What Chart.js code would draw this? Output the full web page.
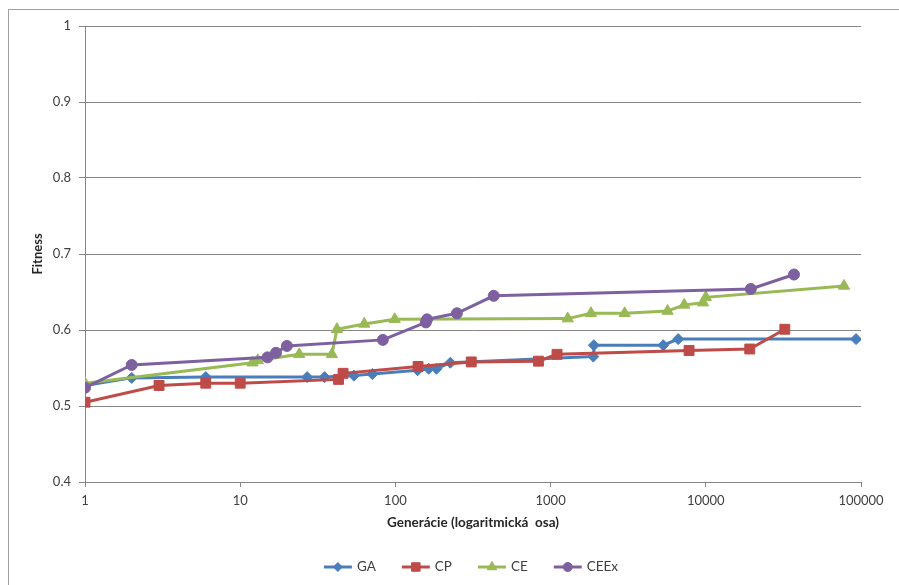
<!DOCTYPE html>
<html lang="sk">
<head>
    <meta charset="UTF-8">
    <title>Fitness</title>
    <script src="https://cdn.jsdelivr.net/npm/chart.js"></script>
    <style>
        body {
            margin: 0;
            background: #fff;
        }
        #wrap {
            width: 899px;
            height: 585px;
        }
    </style>
</head>
<body>
    <div id="wrap"><canvas id="fitChart" width="899" height="585"></canvas></div>

    <script>
        // hodnoty odčítané z grafu
        const gaX = [1, 2, 6, 27, 35, 54, 71, 139, 164, 184, 226, 1885, 1900, 5320, 6640, 92900];
        const gaY = [0.527, 0.537, 0.538, 0.538, 0.538, 0.540, 0.542, 0.547, 0.549, 0.549, 0.557, 0.565, 0.580, 0.580, 0.588, 0.588];

        const cpX = [1, 3, 6, 10, 43, 46, 140, 308, 835, 1100, 7800, 19200, 32300];
        const cpY = [0.505, 0.527, 0.530, 0.530, 0.535, 0.543, 0.552, 0.558, 0.559, 0.568, 0.573, 0.575, 0.601];

        const ceX = [1, 12, 13, 24, 39, 42, 63, 99, 1290, 1820, 3000, 5670, 7260, 9600, 10000, 77700];
        const ceY = [0.530, 0.557, 0.560, 0.568, 0.568, 0.601, 0.608, 0.614, 0.615, 0.622, 0.622, 0.625, 0.633, 0.636, 0.643, 0.658];

        const ceexX = [1, 2, 15, 17, 20, 83, 157, 160, 249, 430, 19500, 37000];
        const ceexY = [0.524, 0.554, 0.564, 0.570, 0.579, 0.587, 0.610, 0.614, 0.622, 0.645, 0.654, 0.673];

        const xTicks = [1, 10, 100, 1000, 10000, 100000];

        const toPoints = (xs, ys) => xs.map((x, i) => ({ x: x, y: ys[i] }));

        Chart.defaults.font.family = 'Lato, "Liberation Sans", sans-serif';
        Chart.defaults.color = '#404040';

        function series(label, xs, ys, color, style, radius, order) {
            return {
                label: label,
                data: toPoints(xs, ys),
                borderColor: color,
                backgroundColor: color,
                borderWidth: 3,
                pointStyle: style,
                pointRadius: radius,
                pointHoverRadius: radius,
                pointBorderWidth: 1,
                pointBackgroundColor: color,
                pointBorderColor: color,
                tension: 0,
                order: order
            };
        }

        // rámik okolo grafu
        const framePlugin = {
            id: 'frame',
            beforeDraw(chart) {
                const ctx = chart.ctx;
                ctx.save();
                ctx.fillStyle = '#fff';
                ctx.fillRect(0, 0, chart.width, chart.height);
                ctx.strokeStyle = '#a0a0a0';
                ctx.lineWidth = 1;
                ctx.strokeRect(8.5, 9.5, chart.width + 20, chart.height + 20);
                ctx.restore();
            }
        };

        // legenda dole (čiara + značka ako v Exceli)
        const legendPlugin = {
            id: 'bottomLegend',
            afterDraw(chart) {
                const ctx = chart.ctx;
                const lineLen = 28;
                const gap = 26;
                ctx.save();
                ctx.font = '13.5px Lato';
                const items = chart.data.datasets.map(ds => ({
                    ds: ds,
                    w: lineLen + 5 + ctx.measureText(ds.label).width
                }));
                const total = items.reduce((s, it) => s + it.w, 0) + gap * (items.length - 1);
                let x = 471 - total / 2;
                const y = 567;
                items.forEach(({ ds, w }) => {
                    ctx.strokeStyle = ds.borderColor;
                    ctx.fillStyle = ds.borderColor;
                    ctx.lineWidth = 3;
                    ctx.beginPath();
                    ctx.moveTo(x, y);
                    ctx.lineTo(x + lineLen, y);
                    ctx.stroke();
                    ctx.lineWidth = 1;
                    Chart.helpers.drawPoint(ctx, {
                        pointStyle: ds.pointStyle,
                        radius: ds.pointRadius - 1,
                        rotation: 0,
                        borderWidth: 1
                    }, x + lineLen / 2, y);
                    ctx.fillStyle = '#404040';
                    ctx.textBaseline = 'middle';
                    ctx.fillText(ds.label, x + lineLen + 5, y);
                    x += w + gap;
                });
                ctx.restore();
            }
        };

        new Chart(document.getElementById('fitChart'), {
            type: 'line',
            data: {
                datasets: [
                    series('GA', gaX, gaY, '#4A7EBB', 'rectRot', 5.5, 4),
                    series('CP', cpX, cpY, '#BE4B48', 'rect', 7, 3),
                    series('CE', ceX, ceY, '#98B954', 'triangle', 6.5, 2),
                    series('CEEx', ceexX, ceexY, '#7D60A0', 'circle', 5.5, 1)
                ]
            },
            options: {
                responsive: false,
                animation: false,
                layout: {
                    padding: { left: 10, top: 26, right: 38, bottom: 35 }
                },
                plugins: {
                    legend: { display: false },
                    tooltip: { enabled: false }
                },
                scales: {
                    x: {
                        type: 'logarithmic',
                        min: 1,
                        max: 100000,
                        afterFit: (scale) => { scale.height = 68; },
                        afterBuildTicks: (scale) => {
                            scale.ticks = xTicks.map(v => ({ value: v }));
                        },
                        ticks: {
                            font: { size: 13 },
                            padding: 6,
                            maxRotation: 0,
                            callback: (v) => String(v)
                        },
                        grid: {
                            drawOnChartArea: false,
                            drawTicks: true,
                            tickLength: 5,
                            color: '#868686'
                        },
                        border: { color: '#868686' },
                        title: {
                            display: true,
                            text: 'Generácie (logaritmická  osa)',
                            font: { size: 13.5, weight: 'bold' },
                            color: '#262626',
                            padding: { top: 0, bottom: 19 }
                        }
                    },
                    y: {
                        min: 0.4,
                        max: 1,
                        afterFit: (scale) => { scale.width = 75; },
                        ticks: {
                            stepSize: 0.1,
                            font: { size: 13 },
                            padding: 8,
                            callback: (v) => String(+v.toFixed(1))
                        },
                        grid: {
                            color: '#868686',
                            tickLength: 6
                        },
                        border: { color: '#868686' },
                        title: {
                            display: true,
                            text: 'Fitness',
                            font: { size: 13, weight: 'bold' },
                            color: '#262626',
                            padding: { top: 20, bottom: 0 }
                        }
                    }
                }
            },
            plugins: [framePlugin, legendPlugin]
        });
    </script>
</body>
</html>
